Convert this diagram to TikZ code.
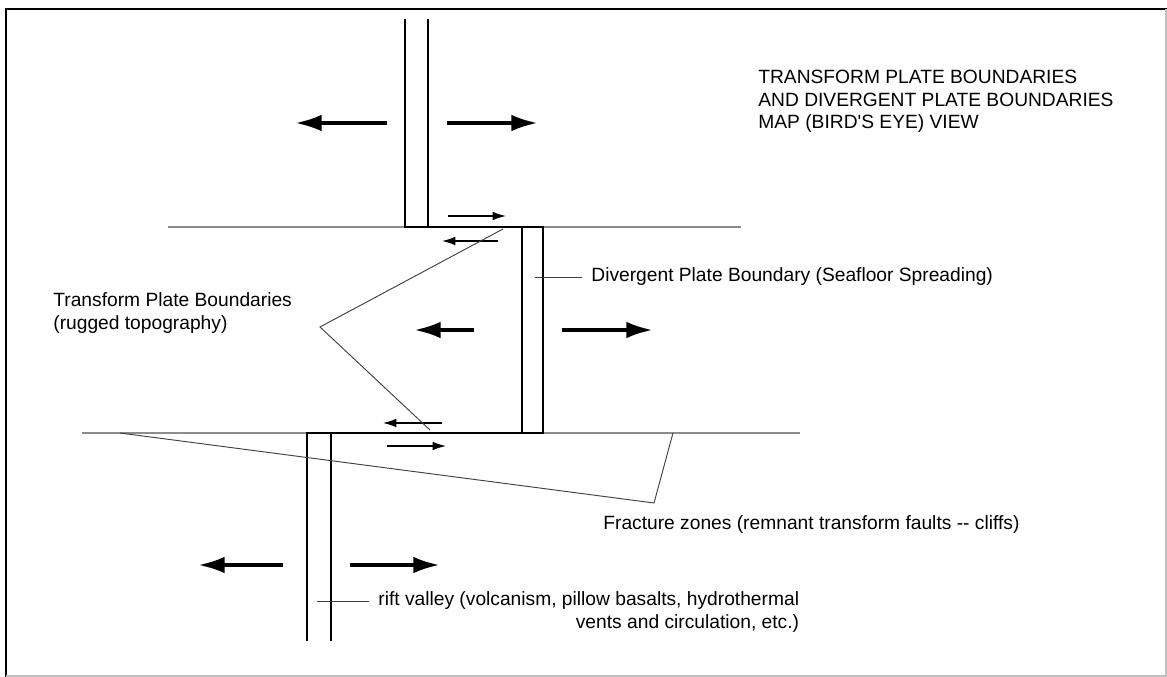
\documentclass[tikz,border=0pt]{standalone}
\usepackage{fontspec}
\setmainfont{Liberation Sans}
\usetikzlibrary{arrows.meta}

\begin{document}
\begin{tikzpicture}[x=0.03cm,y=-0.03cm,
  ridge/.style={line width=2pt},
  zone/.style={black!45, line width=0.9pt},
  leader/.style={black!75, line width=0.8pt},
  spread/.style={line width=3.4pt, -{Latex[length=0.8cm,width=0.5cm]}},
  slip/.style={line width=1.2pt, -{Latex[length=0.4cm,width=0.26cm]}},
  lbl/.style={font=\fontsize{16.4}{19.4}\selectfont, inner sep=0pt, outer xsep=8pt}]

\useasboundingbox (0,0) rectangle (1167,677);

% frame
\draw[line width=2pt] (6,677) -- (6,9) -- (1167,9);
\draw[black!25, line width=1pt] (6,676) -- (1166,676) -- (1166,9);

% fracture zones
\draw[zone] (168,227) -- (741,227);
\draw[zone] (82,433) -- (800,433);

% ridge segments offset by the transforms
\draw[ridge] (405,19) -- (405,227) -- (543,227) -- (543,433) -- (307,433) -- (307,641);
\draw[ridge] (428,19) -- (428,227);
\draw[ridge] (522,227) -- (522,433);
\draw[ridge] (331,433) -- (331,641);

% spreading
\foreach \y/\xl/\tl/\xr/\tr in {123/387/295/447/538, 330/474/414/562/653, 565/283/198/350/440} {
  \draw[spread] (\xl,\y) -- (\tl,\y);
  \draw[spread] (\xr,\y) -- (\tr,\y);
}

% slip along the transforms
\draw[slip] (448,216) -- (506,216);
\draw[slip] (498,241) -- (442,241);
\draw[slip] (442,423) -- (383,423);
\draw[slip] (387,446) -- (446,446);

% labels
\node[lbl, anchor=base west, align=left] (title) at (749,129)
  {TRANSFORM PLATE BOUNDARIES\\AND DIVERGENT PLATE BOUNDARIES\\MAP (BIRD\textquotesingle S EYE) VIEW};

\coordinate (ridgemid) at (535,277);
\node[lbl, anchor=west] (divlbl) at (582,277) {Divergent Plate Boundary (Seafloor Spreading)};
\draw[leader] (ridgemid) -- (divlbl.west);

\coordinate (tupper) at (503,229);
\coordinate (tlower) at (430,430);
\node[lbl, anchor=base west, align=left] (translbl) at (44,329) {Transform Plate Boundaries\\(rugged topography)};
\coordinate (tfork) at (320,327);
\draw[leader] (tupper) -- (tfork) -- (tlower);

\coordinate (fzleft) at (120,433);
\coordinate (fzright) at (673,433);
\coordinate (fzfork) at (654,503);
\node[lbl, anchor=base west] (fzlbl) at (594,529) {Fracture zones (remnant transform faults -{}- cliffs)};
\draw[leader] (fzleft) -- (fzfork) -- (fzright);

\coordinate (rift) at (317,601);
\node[lbl, anchor=base west, align=right] (riftlbl) at (369,628)
  {rift valley (volcanism, pillow basalts, hydrothermal\\vents and circulation, etc.)};
\draw[leader] (rift) -- (rift -| riftlbl.west);

\end{tikzpicture}
\end{document}
